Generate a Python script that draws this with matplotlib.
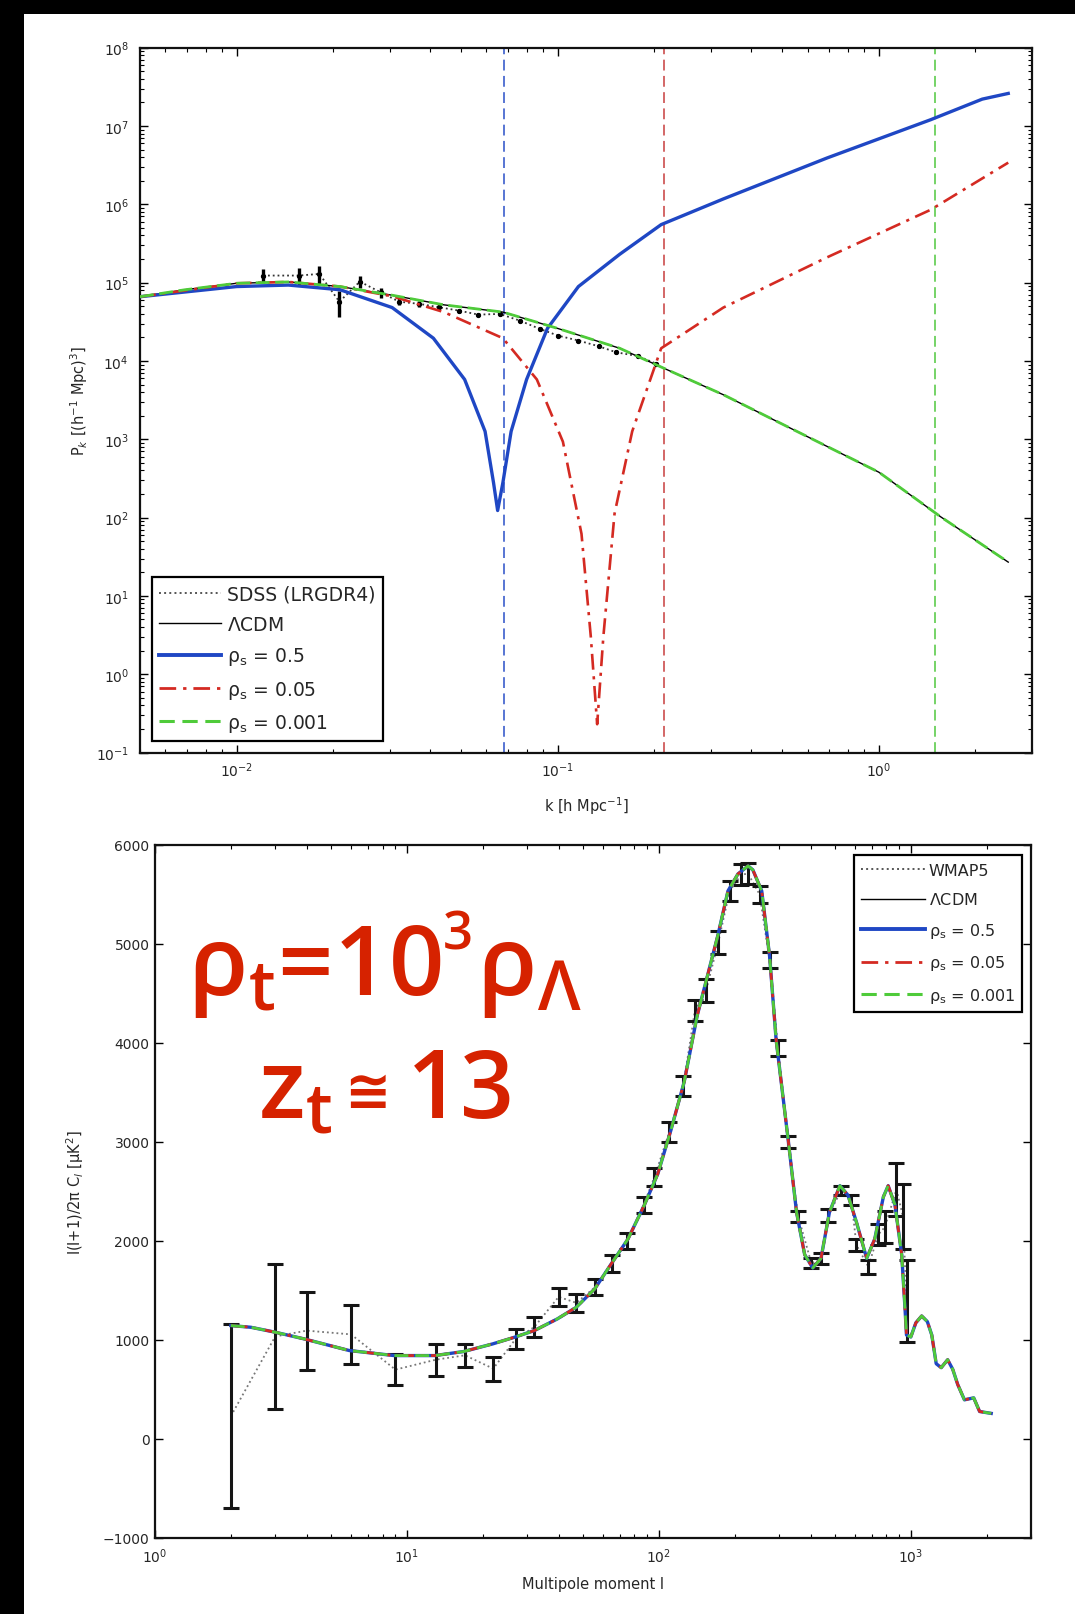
import numpy as np
import matplotlib.pyplot as plt
from matplotlib.patches import Rectangle
from matplotlib.lines import Line2D
from matplotlib.ticker import LogLocator, NullFormatter, MultipleLocator

plt.rcParams['font.family'] = ['DejaVu Sans']
plt.rcParams['mathtext.fontset'] = 'dejavusans'
plt.rcParams['mathtext.rm'] = 'Open Sans:semibold'
plt.rcParams['mathtext.it'] = 'Open Sans:semibold'
plt.rcParams['mathtext.bf'] = 'Open Sans:bold'
plt.rcParams['mathtext.fallback'] = 'stixsans'

# ---- top panel: matter power spectrum ----
lcdm_k = [0.0050, 0.0069, 0.010, 0.0145, 0.021, 0.0305, 0.0442, 0.0675, 0.100,
          0.156, 0.218, 0.328, 0.594, 1.00, 1.56, 2.53]
lcdm_P = [6.6e4, 8.1e4, 9.8e4, 1.02e5, 8.9e4, 6.9e4, 5.2e4, 4.2e4, 2.6e4,
          1.45e4, 7.8e3, 3.7e3, 1.1e3, 380, 102, 27]

blue_k = [0.0050, 0.010, 0.0145, 0.021, 0.0305, 0.041, 0.0513, 0.0594, 0.0631,
          0.065, 0.0675, 0.0716, 0.080, 0.0929, 0.116, 0.156, 0.210, 0.328,
          0.690, 1.45, 2.10, 2.53]
blue_P = [6.6e4, 8.9e4, 9.3e4, 8.1e4, 4.8e4, 1.95e4, 5.8e3, 1.26e3, 280,
          123, 280, 1.26e3, 5.8e3, 2.6e4, 8.9e4, 2.3e5, 5.5e5, 1.17e6,
          3.9e6, 1.2e7, 2.2e7, 2.6e7]

red_k = [0.005, 0.010, 0.0145, 0.021, 0.0305, 0.0442, 0.0675, 0.0861, 0.1038,
         0.1186, 0.1268, 0.1327, 0.1387, 0.1503, 0.1706, 0.210, 0.328, 0.690,
         1.45, 2.53]
red_P = [6.6e4, 9.8e4, 1.02e5, 8.9e4, 6.7e4, 4.2e4, 1.95e4, 5.8e3, 930,
         62, 3.0, 0.23, 3.0, 112, 1.26e3, 1.45e4, 4.8e4, 2.1e5, 8.5e5, 3.4e6]

sdss_k = [0.0121, 0.0156, 0.0181, 0.0209, 0.0242, 0.0281, 0.0321, 0.0371,
          0.0426, 0.0491, 0.0566, 0.066, 0.0762, 0.088, 0.1004, 0.116, 0.134,
          0.152, 0.178, 0.203]
sdss_P = [1.23e5, 1.23e5, 1.29e5, 5.7e4, 1.03e5, 7.5e4, 5.7e4, 5.35e4,
          4.85e4, 4.4e4, 3.9e4, 3.98e4, 3.27e4, 2.56e4, 2.1e4, 1.82e4, 1.54e4,
          1.29e4, 1.15e4, 9.2e3]
sdss_err = [2.4e4, 3.0e4, 3.2e4, 2.1e4, 1.8e4, 1.1e4, 6e3, 4e3, 3e3, 2.5e3,
            2e3, 2e3, 1.5e3, 1.2e3, 1e3, 9e2, 8e2, 7e2, 6e2, 5e2]

k_transition = [0.068, 0.214, 1.5]

# ---- bottom panel: CMB TT spectrum ----
wmap_l = [2, 3, 4, 6, 9, 13, 17, 22, 27, 32, 40, 47, 56, 65, 75, 87, 96, 110,
          125, 139, 154, 172, 191, 212, 226, 251, 275, 297, 326, 357, 403,
          442, 470, 530, 581, 608, 678, 743, 789, 877, 930, 962]
wmap_cl = [230, 1035, 1094, 1056, 700, 800, 845, 710, 1010, 1130, 1435, 1375,
           1535, 1775, 2000, 2365, 2645, 3100, 3565, 4330, 4530, 5015, 5535,
           5700, 5710, 5500, 4840, 3950, 3000, 2250, 1775, 1820, 2260, 2510,
           2410, 1960, 1740, 2065, 2140, 2520, 2250, 1390]
wmap_err = [930, 733, 394, 298, 160, 160, 116, 120, 101, 101, 90, 91, 79, 87,
            78, 79, 88, 97, 97, 106, 116, 116, 97, 106, 106, 90, 79, 79, 58,
            57, 48, 57, 67, 48, 49, 60, 70, 106, 163, 270, 330, 415]

cmb_l = [2, 2.4, 3, 3.9, 5.9, 8.9, 12.9, 16.8, 21.9, 26.7, 32, 39.5, 47, 55.6,
         64.7, 75.4, 87.6, 99, 111.7, 126, 142, 154, 171.6, 188, 206, 226, 236,
         256, 275, 292, 326, 352, 379, 408, 440, 475, 523, 563, 608, 668, 719,
         778, 813, 865, 920, 948, 961, 1000, 1047, 1104, 1163, 1211, 1261,
         1320, 1400, 1467, 1535, 1632, 1777, 1875, 2085]
cmb_cl = [1145, 1128, 1078, 1011, 893, 842, 842, 883, 960, 1027, 1094, 1212,
          1330, 1515, 1768, 2020, 2364, 2677, 3122, 3606, 4278, 4626, 5091,
          5535, 5707, 5788, 5748, 5535, 4879, 4030, 3020, 2287, 1862, 1727,
          1824, 2287, 2558, 2462, 2192, 1824, 2020, 2445, 2558, 2364, 1862,
          1323, 1050, 1030, 1173, 1242, 1185, 1050, 760, 720, 800, 703, 550,
          395, 415, 277, 258]

BLUE = '#1f47c4'
RED = '#d42a22'
GREEN = '#4fcb3a'
TXT = '#262626'
DASHDOT = (0, (6, 2.5, 1.2, 2.5))
W, H = 1075, 1615


def style(ax, ypad):
    ax.tick_params(which='both', direction='in', top=True, right=True,
                   labelsize=10, labelcolor=TXT)
    ax.tick_params(which='major', length=6, width=1)
    ax.tick_params(which='minor', length=3, width=0.8)
    ax.tick_params(axis='y', pad=ypad)
    ax.tick_params(axis='x', pad=6)
    for s in ax.spines.values():
        s.set_linewidth(1.6)
        s.set_color('#111111')


def legend_handles():
    return [Line2D([], [], color='#555555', ls=':', lw=1.4),
            Line2D([], [], color='black', lw=1.0),
            Line2D([], [], color=BLUE, lw=2.8),
            Line2D([], [], color=RED, lw=2.0, ls=DASHDOT),
            Line2D([], [], color=GREEN, lw=2.2, ls=(0, (5, 2.5)))]


rho_labels = [r'$\Lambda$CDM', r'$\mathregular{\rho_s}$ = 0.5',
              r'$\mathregular{\rho_s}$ = 0.05', r'$\mathregular{\rho_s}$ = 0.001']

fig = plt.figure(figsize=(W / 100, H / 100), dpi=100, facecolor='black')
fig.add_artist(Rectangle((24 / W, 0), 1, 1 - 15 / H,
                         transform=fig.transFigure, facecolor='white',
                         edgecolor='none', zorder=-10))

# ---------- top ----------
ax1 = fig.add_axes([0.1302, 0.5334, 0.8298, 0.4365])
ax1.set_xscale('log')
ax1.set_yscale('log')

ax1.errorbar(sdss_k, sdss_P, yerr=sdss_err, fmt='none', ecolor='black',
             elinewidth=2.4, capsize=0, zorder=3)
ax1.plot(sdss_k, sdss_P, ls=':', color='#333333', lw=1.3, marker='o',
         ms=2.8, mfc='black', mec='black', zorder=3)
ax1.plot(lcdm_k, lcdm_P, color='black', lw=1.0, zorder=4)
ax1.plot(blue_k, blue_P, color=BLUE, lw=2.4, zorder=5)
ax1.plot(red_k, red_P, color=RED, lw=1.9, ls=DASHDOT, zorder=6)
ax1.plot(lcdm_k, lcdm_P, color=GREEN, lw=2.0, ls=(0, (5, 2)), zorder=7)

for kt, c in zip(k_transition, ['#4a6ad0', '#d05a5a', '#6ad05a']):
    ax1.axvline(kt, color=c, lw=1.3, ls=(0, (6, 3)), zorder=2)

ax1.set_xlim(0.005, 3.0)
ax1.set_ylim(1e-1, 1e8)
ax1.xaxis.set_major_locator(LogLocator(base=10, numticks=10))
ax1.xaxis.set_minor_locator(LogLocator(base=10, subs=np.arange(2, 10), numticks=20))
ax1.xaxis.set_minor_formatter(NullFormatter())
ax1.yaxis.set_major_locator(LogLocator(base=10, numticks=20))
ax1.yaxis.set_minor_locator(LogLocator(base=10, subs=np.arange(2, 10), numticks=40))
ax1.yaxis.set_minor_formatter(NullFormatter())
style(ax1, 8)
ax1.set_xlabel('k [h Mpc$^{-1}$]', fontsize=10.5, color=TXT, labelpad=11)
ax1.set_ylabel('P$_k$ [(h$^{-1}$ Mpc)$^3$]', fontsize=10.5, color=TXT, labelpad=4)

leg1 = ax1.legend(legend_handles(), ['SDSS (LRGDR4)'] + rho_labels,
                  loc='lower left', bbox_to_anchor=(0.013, 0.016),
                  fontsize=13.5, handlelength=3.3, handletextpad=0.3,
                  labelspacing=0.6, borderpad=0.4, fancybox=False,
                  framealpha=1, edgecolor='black', borderaxespad=0)
leg1.get_frame().set_linewidth(1.6)
for t in leg1.get_texts():
    t.set_color(TXT)

# ---------- bottom ----------
ax2 = fig.add_axes([0.1442, 0.0471, 0.8149, 0.4291])
ax2.set_xscale('log')

ax2.plot(wmap_l, wmap_cl, ls=':', color='#777777', lw=1.3, zorder=2)
ax2.errorbar(wmap_l, wmap_cl, yerr=wmap_err, fmt='none', ecolor='#151515',
             elinewidth=2.2, capsize=5.5, capthick=2.2, zorder=3)
ax2.plot(cmb_l, cmb_cl, color='black', lw=1.0, zorder=4)
ax2.plot(cmb_l, cmb_cl, color=BLUE, lw=2.4, zorder=5)
ax2.plot(cmb_l, cmb_cl, color=RED, lw=2.0, ls=DASHDOT, zorder=6)
ax2.plot(cmb_l, cmb_cl, color=GREEN, lw=2.0, ls=(0, (5, 2.5)), zorder=7)

ax2.set_xlim(1, 3000)
ax2.set_ylim(-1000, 6000)
ax2.yaxis.set_major_locator(MultipleLocator(1000))
ax2.xaxis.set_major_locator(LogLocator(base=10, numticks=10))
ax2.xaxis.set_minor_locator(LogLocator(base=10, subs=np.arange(2, 10), numticks=20))
ax2.xaxis.set_minor_formatter(NullFormatter())
style(ax2, 4)
ax2.set_xlabel('Multipole moment l', fontsize=10.5, color=TXT, labelpad=8)
ax2.set_ylabel('l(l+1)/2π C$_l$ [μK$^2$]', fontsize=10.5, color=TXT, labelpad=12)

leg2 = ax2.legend(legend_handles(), ['WMAP5'] + rho_labels,
                  loc='upper right', bbox_to_anchor=(0.99, 0.985),
                  fontsize=11.5, handlelength=4.0, handletextpad=0.2,
                  labelspacing=0.85, borderpad=0.45, fancybox=False,
                  framealpha=1, edgecolor='black', borderaxespad=0)
leg2.get_frame().set_linewidth(1.6)
for t in leg2.get_texts():
    t.set_color(TXT)

# ---------- red annotation (pieces placed one after another) ----------
RED_TXT = '#d62200'
renderer = fig.canvas.get_renderer()


def piece(x_px, base_px, s, size, fam='Open Sans'):
    t = fig.text(x_px / W, 1 - base_px / H, s, color=RED_TXT, fontsize=size,
                 family=[fam, 'DejaVu Sans'], weight='semibold',
                 math_fontfamily='custom', ha='left', va='baseline')
    return t.get_window_extent(renderer).x1


x = piece(188, 995, r'ρ$_\mathregular{t}$=10', 70)
x = piece(x + 1, 950, '3', 38)
piece(x + 4, 995, r'ρ$_\mathregular{Λ}$', 70)

x = piece(258, 1118, r'z$_\mathregular{t}$', 70)
x = piece(x + 12, 1110, '≅', 40, fam='DejaVu Sans')
piece(x + 16, 1118, '13', 68)

fig.savefig('out.png', dpi=100, facecolor='black')
